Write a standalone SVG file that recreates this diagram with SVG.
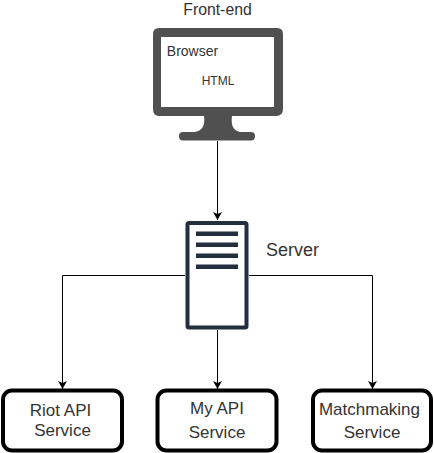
<svg xmlns="http://www.w3.org/2000/svg" width="434" height="453" viewBox="0 0 434 453">
<style>
text{font-family:"Liberation Sans",Arial,sans-serif;fill:#333;text-anchor:middle}
.box{fill:#fff;stroke:#000;stroke-width:4}
.t17{font-size:17px}.t12{font-size:12px}.t14{font-size:14px}.t16{font-size:16px}.t18{font-size:18px}
.c{fill:none;stroke:#000;stroke-width:1}
.bar{fill:#232f3e}
</style>
<defs><marker id="a" markerUnits="userSpaceOnUse" markerWidth="10" markerHeight="10" refX="8" refY="4.500" orient="auto"><path d="M0 0L8 4.500L0 9L2 4.500Z" fill="#000"/></marker></defs>
<rect width="434" height="453" fill="#fff"/>
<g id="connectors">
<path class="c" d="M217.500 141V220" marker-end="url(#a)"/>
<path class="c" d="M185 275.500H62.500V389" marker-end="url(#a)"/>
<path class="c" d="M249 275.500H372.500V389" marker-end="url(#a)"/>
<path class="c" d="M217.500 330V389" marker-end="url(#a)"/>
</g>
<g id="frontend-label"><text class="t14" style="font-size:15.800px" x="217.500" y="15">Front-end</text></g>
<g id="browser">
<path fill="#505050" d="M159 28H277Q283 28 283 34V109Q283 116 276 116H232Q230 130 240 132H251Q255 132 255 136Q255 140.500 251 140.500H183Q179 140.500 179 136Q179 132 183 132H195Q206 130 204 116H159Q153 116 153 109V34Q153 28 159 28Z"/>
<rect x="161" y="37" width="113" height="70" fill="#fff"/>
<text class="t14" x="192.500" y="56">Browser</text>
<text class="t12" x="218" y="85">HTML</text>
</g>
<g id="server">
<rect x="187.500" y="223" width="59" height="104.500" rx="1.500" fill="#fff" stroke="#232f3e" stroke-width="4"/>
<rect class="bar" x="196" y="231.500" width="42" height="4.500"/>
<rect class="bar" x="196" y="242.500" width="42" height="4.500"/>
<rect class="bar" x="196" y="253.500" width="42" height="4.500"/>
<rect class="bar" x="196" y="264.500" width="42" height="4.500"/>
<text class="t18" x="292.500" y="256">Server</text>
</g>
<g id="riot">
<rect class="box" x="3" y="390.500" width="119" height="60" rx="9"/>
<text class="t17" x="60.500" y="416">Riot API</text>
<text class="t17" x="62.500" y="436">Service</text>
</g>
<g id="myapi">
<rect class="box" x="157.500" y="390.500" width="119" height="60" rx="9"/>
<text class="t17" x="217" y="414">My API</text>
<text class="t17" x="217" y="438">Service</text>
</g>
<g id="match">
<rect class="box" x="313" y="390.500" width="118" height="60" rx="9"/>
<text class="t17" x="369.500" y="415">Matchmaking</text>
<text class="t17" x="372" y="438">Service</text>
</g>
</svg>
